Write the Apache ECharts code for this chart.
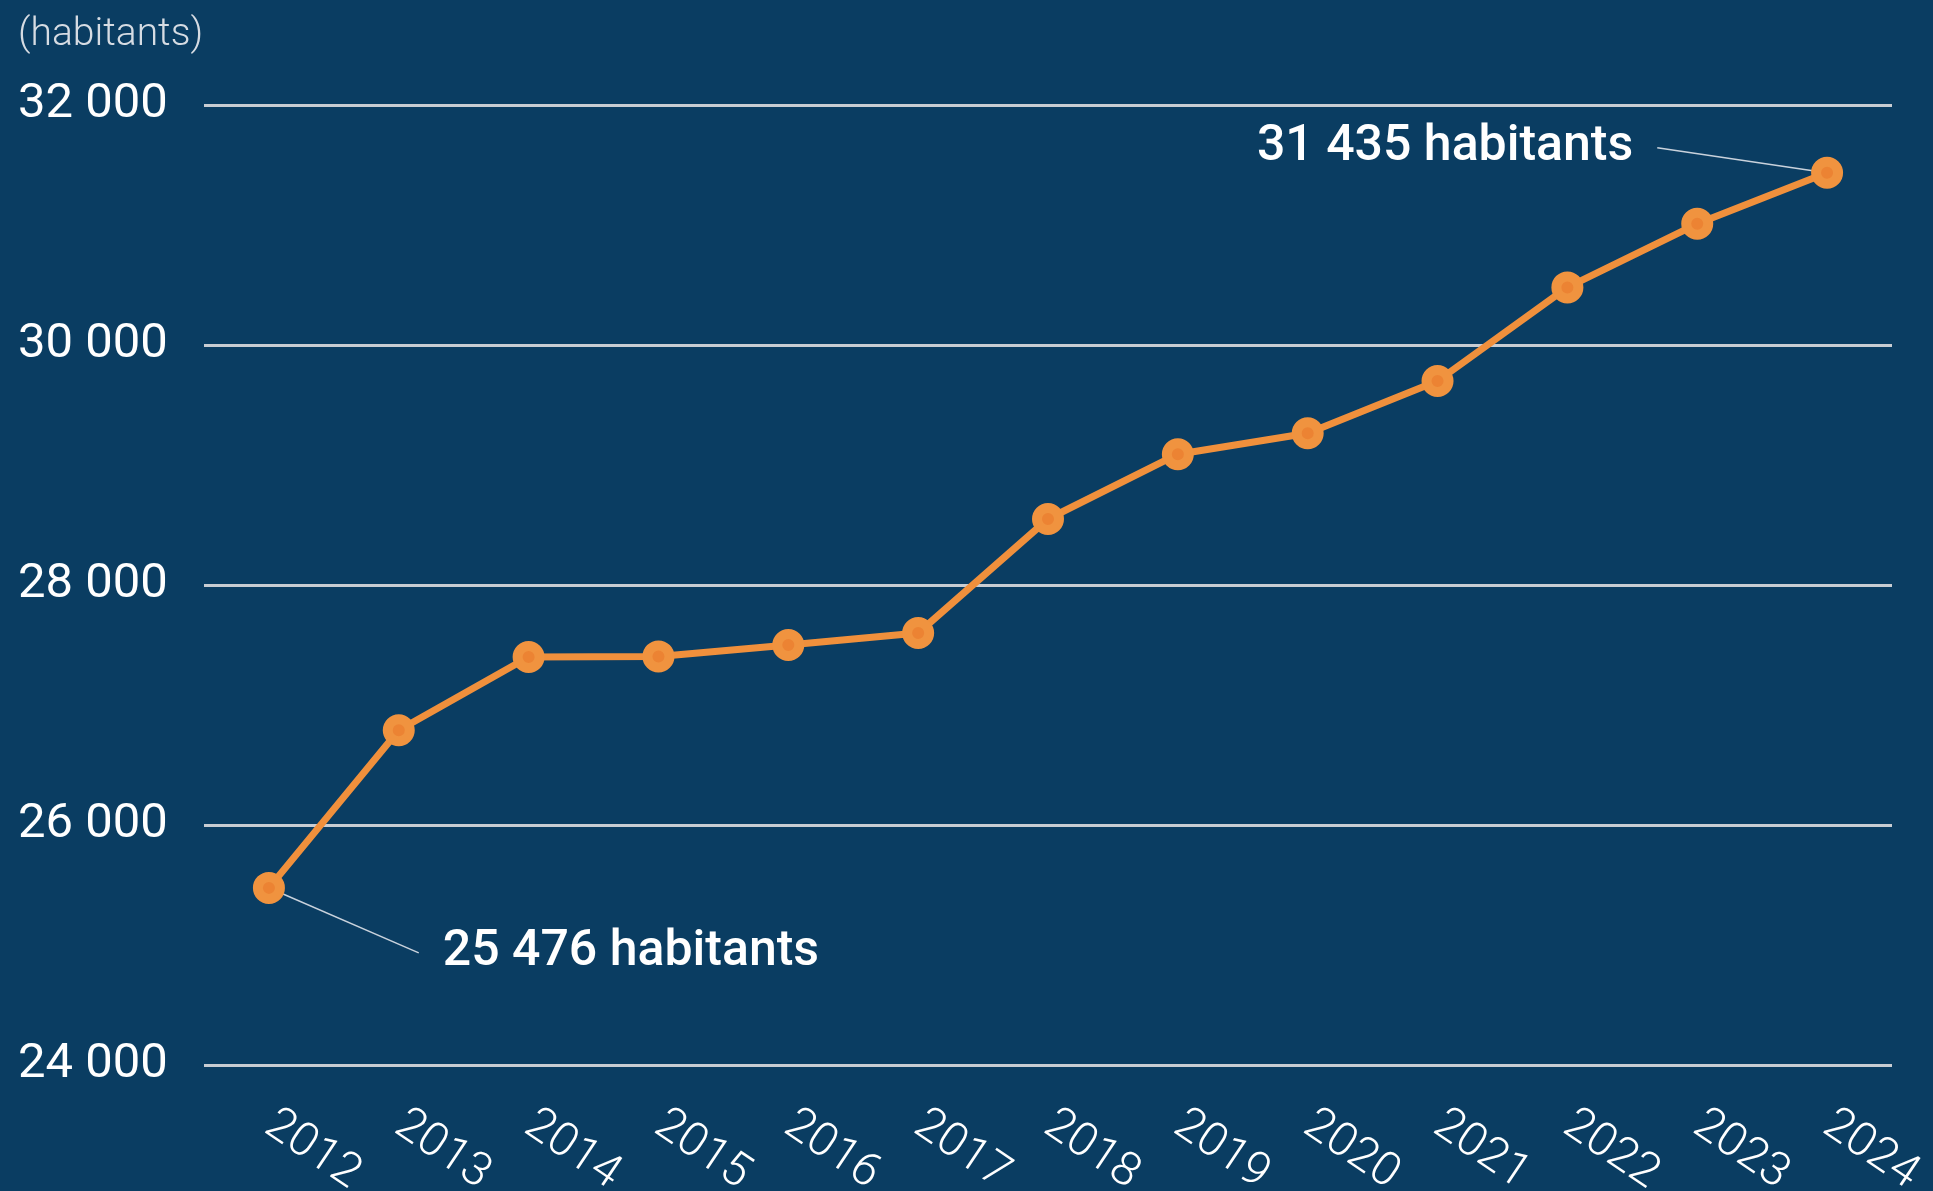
<!DOCTYPE html>
<html>
<head>
<meta charset="utf-8">
<script src="https://cdn.jsdelivr.net/npm/echarts@6/dist/echarts.min.js"></script>
<style>
  html, body { margin: 0; padding: 0; background: #0a3d62; }
  #chart { width: 1933px; height: 1191px; }
</style>
</head>
<body>
<div id="chart"></div>
<script>
// donnees
var annees = ['2012', '2013', '2014', '2015', '2016', '2017', '2018', '2019', '2020', '2021', '2022', '2023', '2024'];
var habitants = [25476, 26790, 27400, 27405, 27500, 27600, 28550, 29090, 29265, 29700, 30480, 31010, 31435];
var yTicks = [24000, 26000, 28000, 30000, 32000];

// decalage des etiquettes (premier / dernier point)
var decalages = { 0: [362, 65], 12: [-382, -25] };

function fmt(v) {
    return String(v).replace(/\B(?=(\d{3})+(?!\d))/g, ' ');
}

var points = [];
for (var i = 0, len = habitants.length; i < len; i++) {
    var item = { value: habitants[i] };
    if (decalages[i]) {
        item.label = { show: true };
        item.labelLine = { show: true };
    }
    points.push(item);
}

var option = {
    backgroundColor: '#0a3d62',
    animation: false,
    textStyle: { fontFamily: 'Roboto' },
    title: {
        text: '(habitants)',
        left: 13,
        top: 11,
        textStyle: { color: '#d6dce3', fontSize: 39, fontWeight: 300, fontFamily: 'Roboto' }
    },
    grid: { left: 204, right: 41, top: 105, bottom: 126, containLabel: false, outerBoundsMode: 'none' },
    xAxis: {
        type: 'category',
        data: annees,
        boundaryGap: true,
        axisLine: { show: false },
        axisTick: { show: false },
        axisLabel: {
            color: '#ffffff',
            fontSize: 47,
            fontWeight: 300,
            rotate: -34,
            margin: 56,
            interval: 0
        }
    },
    yAxis: {
        type: 'value',
        min: yTicks[0],
        max: yTicks[yTicks.length - 1],
        interval: 2000,
        axisLine: { show: false },
        axisTick: { show: false },
        splitLine: { lineStyle: { color: '#c8cdd3', width: 3 } },
        axisLabel: {
            color: '#ffffff',
            fontSize: 49,
            align: 'left',
            margin: 186,
            formatter: function(v) { return fmt(v); }
        }
    },
    series: [{
        type: 'line',
        data: points,
        symbol: 'circle',
        symbolSize: 22,
        lineStyle: { color: '#f0903c', width: 7 },
        itemStyle: { color: '#ec8333', borderColor: '#f0933f', borderWidth: 10 },
        label: {
            show: false,
            position: 'inside',
            color: '#ffffff',
            fontSize: 50,
            fontWeight: 500,
            padding: [0, 24],
            backgroundColor: 'rgba(0,0,0,0)',
            formatter: function(p) { return fmt(p.value) + ' habitants'; }
        },
        labelLine: {
            show: false,
            lineStyle: { color: '#c9d2dc', width: 1.5 }
        },
        labelLayout: function(p) {
            var d = decalages[p.dataIndex];
            if (!d) return {};
            return { dx: d[0], dy: d[1] };
        }
    }]
};

var chart = echarts.init(document.getElementById('chart'));
chart.setOption(option);
</script>
</body>
</html>
